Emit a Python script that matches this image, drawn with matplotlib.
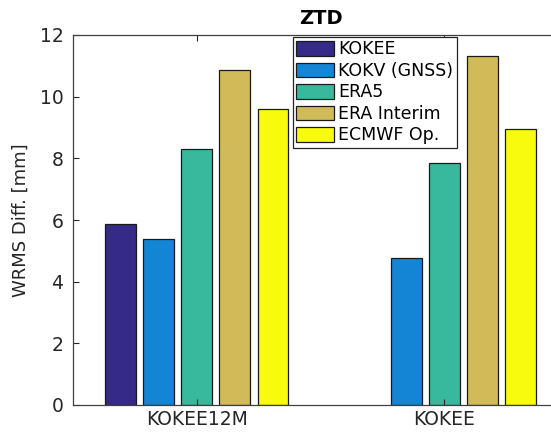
import numpy as np
import matplotlib.pyplot as plt

# WRMS differences of ZTD for each station / source
stations = ['KOKEE12M', 'KOKEE']
sources = ['KOKEE', 'KOKV (GNSS)', 'ERA5', 'ERA Interim', 'ECMWF Op.']
kokee = [5.86, np.nan]
kokv = [5.38, 4.76]
era5 = [8.29, 7.85]
era_interim = [10.88, 11.31]
ecmwf_op = [9.61, 8.94]

# parula(5) colours
colors = [(0.2081, 0.1663, 0.5292),
          (0.0795, 0.5159, 0.8328),
          (0.2178, 0.7250, 0.6193),
          (0.8185, 0.7327, 0.3498),
          (0.9763, 0.9831, 0.0538)]

series = [kokee, kokv, era5, era_interim, ecmwf_op]

fig = plt.figure(figsize=(5.51, 4.33), dpi=100)
ax = fig.add_axes([73/551, 28/433, 495/551, 370/433])

x = np.arange(1, len(stations) + 1)
offsets = [-0.308, -0.154, 0.0, 0.154, 0.308]
width = 0.125
for vals, off, c, lab in zip(series, offsets, colors, sources):
    ax.bar(x + off, vals, width, color=c, edgecolor='#1a1a1a', linewidth=0.9, label=lab)

ax.set_xlim(0.5, 2.5)
ax.set_ylim(0, 12)
ax.set_xticks(x)
ax.set_xticklabels(stations)
ax.set_yticks(np.arange(0, 13, 2))
ax.tick_params(direction='in', top=True, right=True, labelsize=13.5, colors='#262626', length=4)
ax.tick_params(axis='y', pad=7)
for s in ax.spines.values():
    s.set_color('#404040')
    s.set_linewidth(0.9)

ax.set_ylabel('WRMS Diff. [mm]', fontsize=13, color='#262626', labelpad=7)
ax.set_title('ZTD', fontsize=14, fontweight='bold', pad=8)

leg = ax.legend(loc='upper left', bbox_to_anchor=(293/551, 396/433), bbox_transform=fig.transFigure,
                fontsize=12.5, handlelength=2.15, handleheight=0.9, handletextpad=0.25,
                labelspacing=0.2, borderpad=0.2, borderaxespad=0, fancybox=False, framealpha=1)
leg.get_frame().set_edgecolor('#262626')
leg.get_frame().set_linewidth(0.9)

fig.savefig('out.png', dpi=100)
